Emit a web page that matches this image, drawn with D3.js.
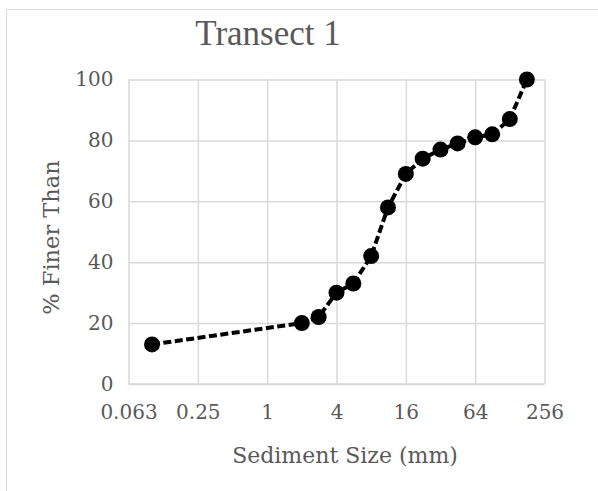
<!DOCTYPE html>
<html>
<head>
<meta charset="utf-8">
<script src="https://cdn.jsdelivr.net/npm/d3@7"></script>
<style>
  html, body { margin: 0; padding: 0; background: #fff; }
  svg { display: block; }
</style>
</head>
<body>
<svg id="chart" width="598" height="491"></svg>
<script>
// Data
const sizes = [0.1, 2, 2.8, 4, 5.6, 8, 11.2, 16, 22.4, 32, 45, 64, 90, 128, 180];
const percentFiner = [13, 20, 22, 30, 33, 42, 58, 69, 74, 77, 79, 81, 82, 87, 100];
const xTickValues = [0.0625, 0.25, 1, 4, 16, 64, 256];
const xTickLabels = ["0.063", "0.25", "1", "4", "16", "64", "256"];
const yTickValues = [0, 20, 40, 60, 80, 100];
const titleText = "Transect 1";
const xTitle = "Sediment Size (mm)";
const yTitle = "% Finer Than";

const svg = d3.select("#chart");
const W = 598, H = 491;
const plot = { left: 128.5, right: 544.5, top: 79.5, bottom: 384 };
const textColor = "#595959";
const gridColor = "#d9d9d9";
const fontFam = "'DejaVu Serif', 'Liberation Serif', serif";

svg.append("rect").attr("width", W).attr("height", H).attr("fill", "#fff");
svg.append("rect")
  .attr("x", 6.5).attr("y", 9.5).attr("width", 620).attr("height", 520)
  .attr("fill", "none").attr("stroke", "#d9d9d9").attr("stroke-width", 1);

const x = d3.scaleLog().base(4).domain([0.0625, 256]).range([plot.left, plot.right]);
const y = d3.scaleLinear().domain([0, 100]).range([plot.bottom, plot.top]);

// Gridlines
const gx = svg.append("g")
  .attr("transform", `translate(0,${plot.bottom})`)
  .call(d3.axisBottom(x).tickValues(xTickValues)
    .tickSize(-(plot.bottom - plot.top))
    .tickFormat((d, i) => xTickLabels[i]));
gx.select(".domain").remove();
gx.selectAll(".tick line").attr("stroke", gridColor).attr("stroke-width", 1.5);
gx.selectAll(".tick text")
  .attr("fill", textColor).attr("font-family", fontFam).attr("font-size", 20)
  .attr("y", 21).attr("dy", "0.71em");

const gy = svg.append("g")
  .attr("transform", `translate(${plot.left},0)`)
  .call(d3.axisLeft(y).tickValues(yTickValues)
    .tickSize(-(plot.right - plot.left)));
gy.select(".domain").remove();
gy.selectAll(".tick line").attr("stroke", gridColor).attr("stroke-width", 1.5);
gy.selectAll(".tick text")
  .attr("fill", textColor).attr("font-family", fontFam).attr("font-size", 20)
  .attr("x", -15);

// Bottom axis line
svg.append("line")
  .attr("x1", plot.left).attr("x2", plot.right)
  .attr("y1", y(0)).attr("y2", y(0))
  .attr("stroke", gridColor).attr("stroke-width", 1.5);

// Line
const pts = sizes.map((s, i) => [s, percentFiner[i]]);
svg.append("path")
  .datum(pts)
  .attr("fill", "none")
  .attr("stroke", "#000")
  .attr("stroke-width", 4)
  .attr("stroke-dasharray", "8,3.5")
  .attr("d", d3.line().x(d => x(d[0])).y(d => y(d[1])));

// Markers
svg.append("g").selectAll("circle")
  .data(pts).join("circle")
  .attr("cx", d => x(d[0])).attr("cy", d => y(d[1]))
  .attr("r", 8).attr("fill", "#000");

// Title
svg.append("text")
  .attr("x", 268).attr("y", 45)
  .attr("text-anchor", "middle")
  .attr("font-family", "'Liberation Serif', serif")
  .attr("font-size", 35)
  .attr("fill", textColor)
  .text(titleText);

// Axis titles
svg.append("text")
  .attr("x", (plot.left + plot.right) / 2 + 8.5).attr("y", 463)
  .attr("text-anchor", "middle")
  .attr("font-family", fontFam).attr("font-size", 22)
  .attr("fill", textColor)
  .text(xTitle);

svg.append("text")
  .attr("transform", `translate(58.5,${237.5}) rotate(-90)`)
  .attr("text-anchor", "middle")
  .attr("font-family", fontFam).attr("font-size", 22.5)
  .attr("fill", textColor)
  .text(yTitle);
</script>
</body>
</html>
